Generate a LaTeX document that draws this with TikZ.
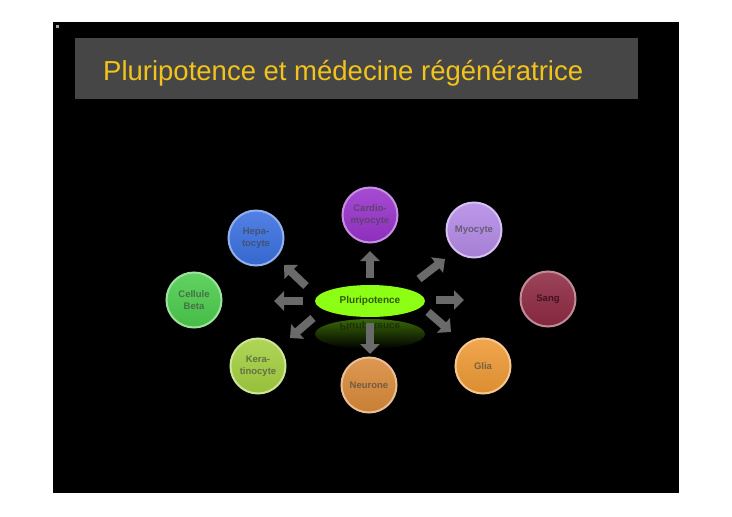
\documentclass[tikz,border=0pt]{standalone}
\usepackage{fontspec}
\setmainfont{Liberation Sans}
\usetikzlibrary{arrows.meta,shadings,shapes.geometric}
\definecolor{titleyellow}{HTML}{F2C31B}
\definecolor{titlegray}{HTML}{464646}
\definecolor{arrowgray}{HTML}{6A6A6A}
\definecolor{textgray}{HTML}{474747}
\definecolor{lime}{HTML}{8CFF14}
\definecolor{cCardio}{HTML}{9933CC}
\definecolor{cHepa}{HTML}{3A70E0}
\definecolor{cMyo}{HTML}{B48AE6}
\definecolor{cBeta}{HTML}{4CCC4C}
\definecolor{cSang}{HTML}{8E2A42}
\definecolor{cKera}{HTML}{A4D040}
\definecolor{cNeur}{HTML}{D98A3A}
\definecolor{cGlia}{HTML}{EE9A35}
\tikzset{
  cell/.style={circle, minimum size=55pt, inner sep=0pt, align=center,
    font=\fontsize{9.5}{12}\selectfont\bfseries,
    draw=#1!55!white, line width=2pt,
    top color=#1!88!white, bottom color=#1!92!black,
    text=#1!30!textgray},
  growarrow/.style={draw=arrowgray, line width=8pt,
    -{Triangle[width=19pt,length=10pt]}},
}
\begin{document}
\begin{tikzpicture}[x=1pt,y=-1pt]
\useasboundingbox (0,0) rectangle (732,517);
\fill[white] (0,0) rectangle (732,517);
\fill[black] (53,22) rectangle (679,493);
\fill[gray!70] (55.5,25) rectangle (58.5,28);
\fill[titlegray] (75,38) rectangle (638,99);
\node[anchor=base west, text=titleyellow, font=\fontsize{27.5}{32}\selectfont, inner sep=0pt]
  (title) at (103,80) {Pluripotence et médecine régénératrice};

% reflection
\begin{scope}
\shade[top color=lime!40!black, bottom color=black, shading angle=0]
  (370,334) ellipse [x radius=55pt, y radius=15pt];
\node[yscale=-1, text=lime!20!black, font=\fontsize{10}{12}\selectfont\bfseries]
  (refl) at (370,326) {Pluripotence};
\end{scope}

\node[ellipse, fill=lime, minimum width=110pt, minimum height=32pt, inner sep=0pt,
  text=lime!35!black, font=\fontsize{10}{12}\selectfont\bfseries] (core) at (370,301) {Pluripotence};

\node[cell=cCardio] (cardio) at (370,215) {Cardio-\\myocyte};
\node[cell=cHepa] (hepa) at (256,238) {Hepa-\\tocyte};
\node[cell=cMyo] (myo) at (474,230) {Myocyte};
\node[cell=cBeta] (beta) at (194,300) {Cellule\\Beta};
\node[cell=cSang, text=cSang!45!black] (sang) at (548,299) {Sang};
\node[cell=cKera] (kera) at (258,366) {Kera-\\tinocyte};
\node[cell=cNeur] (neur) at (369,385) {Neurone};
\node[cell=cGlia] (glia) at (483,366) {Glia};

\coordinate (a1s) at (370,278); \coordinate (a1e) at (370,251);
\coordinate (a2s) at (306,286); \coordinate (a2e) at (284,265);
\coordinate (a3s) at (303,301); \coordinate (a3e) at (274,301);
\coordinate (a4s) at (313,318); \coordinate (a4e) at (290,338);
\coordinate (a5s) at (370,323); \coordinate (a5e) at (370,354);
\coordinate (a6s) at (419,279); \coordinate (a6e) at (445,259);
\coordinate (a7s) at (436,300); \coordinate (a7e) at (464,300);
\coordinate (a8s) at (428,312); \coordinate (a8e) at (451,332);
\foreach \i in {1,...,8} \draw[growarrow] (a\i s) -- (a\i e);
\end{tikzpicture}
\end{document}
